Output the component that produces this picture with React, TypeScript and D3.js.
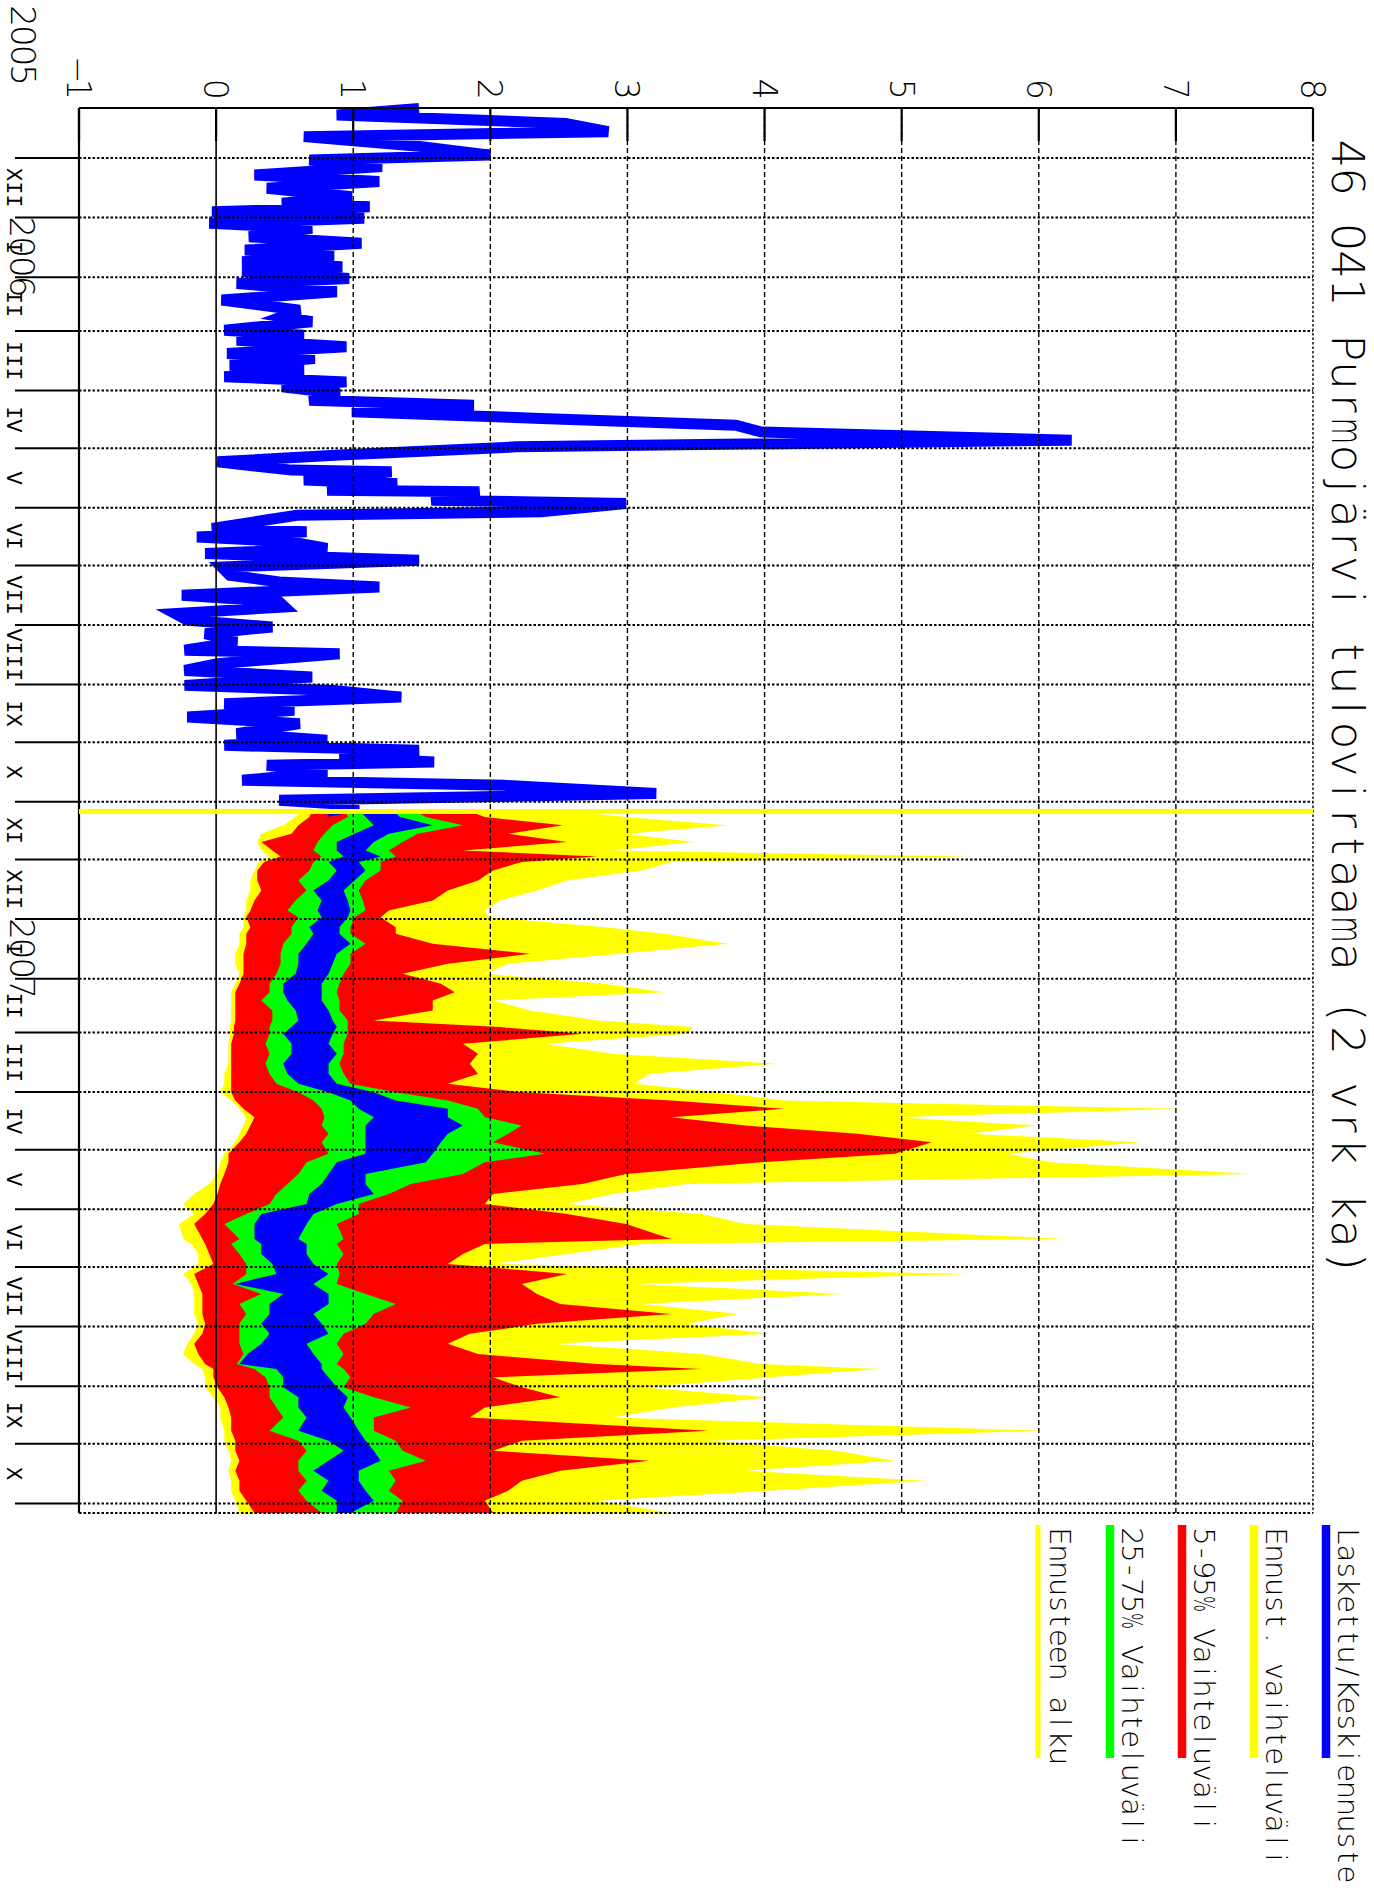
import React from 'react';
import * as d3 from 'd3';

// time axis: days counted from 2005-11-05 (top edge of the plot)
const START = Date.UTC(2005, 10, 5);
const END = Date.UTC(2007, 10, 6);
const FORECAST_START = 366;

const title = '46 041 Purmojärvi tulovirtaama (2 vrk ka)';
const valueTicks = [-1, 0, 1, 2, 3, 4, 5, 6, 7, 8];
const monthNames = ['I', 'II', 'III', 'IV', 'V', 'VI', 'VII', 'VIII', 'IX', 'X', 'XI', 'XII'];

const pastDays = [
  0.2, 3.6, 8.0, 12.3, 14.9, 20.1, 24.5, 27.1, 30.5, 34.9, 38.3, 41.8, 46.2, 49.6, 51.4, 54.0,
  57.4, 60.0, 62.6, 67.0, 70.4, 73.9, 76.5, 80.0, 82.6, 85.2, 88.7, 91.3, 95.6, 99.9, 105.2,
  108.6, 111.2, 115.6, 118.2, 120.8, 124.2, 127.7, 130.3, 133.8, 136.4, 139.8, 142.5, 145.1,
  148.5, 152.0, 154.6, 158.1, 161.5, 165.0, 168.5, 172.8, 176.3, 180.6, 184.1, 188.4, 189.3,
  193.6, 195.4, 198.9, 199.7, 204.1, 205.8, 210.1, 211.9, 215.3, 218.8, 220.5, 223.2, 225.8,
  229.2, 231.8, 235.3, 238.8, 243.1, 246.6, 249.2, 253.5, 257.0, 259.6, 263.0, 266.5, 270.0,
  273.5, 277.8, 282.1, 283.9, 289.1, 292.6, 296.0, 300.4, 303.0, 306.5, 309.9, 313.4, 316.9,
  320.3, 325.5, 329.0, 331.6, 334.2, 337.7, 340.3, 342.0, 345.5, 349.8, 352.4, 356.7, 360.2,
  362.8, 366.0,
];
const pastFlow = [
  1.48, 0.88, 2.55, 2.86, 0.64, 1.5, 2.0, 0.68, 1.21, 0.28, 1.19, 0.37, 0.99, 0.48, 1.12, -0.03,
  1.08, -0.05, 0.7, 0.24, 1.06, 0.21, 0.86, 0.19, 0.92, 0.19, 0.97, 0.15, 0.88, 0.04, 0.61,
  0.48, 0.7, 0.06, 0.64, 0.15, 0.95, 0.08, 0.72, 0.1, 0.64, 0.06, 0.95, 0.48,
  0.9, 0.68, 1.88, 0.99, 2.37, 3.79, 3.97, 6.24, 2.19, 0.9, 0.01, 0.55, 1.28,
  0.64, 1.32, 0.81, 1.92, 1.57, 2.99, 2.37, 0.59, 0.28, -0.03, 0.66, -0.14, 0.55,
  0.81, -0.08, 1.48, 0.04, 0.1, 0.46, 1.19, -0.25, 0.46, 0.5, -0.3, -0.21, 0.41,
  -0.08, 0.15, -0.23, 0.9, 0.01, -0.23, 0.7, -0.23, 0.86, 1.35, 0.06, 0.57, -0.21,
  0.61, 0.15, 0.81, 0.06, 1.48, 0.9, 1.59, 0.37, 0.81, 0.19, 2.1, 3.21, 0.46,
  1.04, 0.81,
];

// forecast distribution
const fcDays = [
  366, 368.9, 373.2, 377.6, 381.9, 386.3, 389.4, 392.3, 396.7, 401.9, 407.1, 412.3, 417.5, 421.0,
  426.2, 429.6, 434.8, 440.0, 445.2, 450.5, 455.7, 460.0, 464.3, 469.5, 474.7, 478.2, 481.7,
  486.9, 492.1, 497.3, 502.5, 507.7, 512.1, 516.4, 520.7, 525.1, 529.4, 533.7, 538.1, 544.1,
  548.5, 554.6, 559.8, 565.0, 570.2, 575.4, 580.6, 588.4, 591.0, 596.2, 601.4, 606.6, 611.8,
  617.0, 622.2, 627.4, 632.6, 637.8, 643.0, 648.3, 653.5, 656.1, 660.4, 665.6, 670.8, 676.1,
  681.3, 688.2, 693.4, 698.6, 703.8, 709.0, 714.2, 719.4, 724.6, 731.0,
];
const fcMin = [
  0.62, 0.58, 0.49, 0.33, 0.3, 0.33, 0.39, 0.31, 0.28, 0.25, 0.25, 0.22, 0.22, 0.2,
  0.2, 0.17, 0.17, 0.14, 0.14, 0.17, 0.14, 0.11, 0.11, 0.11, 0.11, 0.1, 0.1,
  0.09, 0.09, 0.09, 0.06, 0.06, 0.03, 0.11, 0.17, 0.22, 0.2, 0.17, 0.14, 0.06,
  0.03, 0.01, -0.05, -0.16, -0.24, -0.16, -0.27, -0.24, -0.18, -0.13, -0.13, -0.24, -0.18,
  -0.16, -0.16, -0.16, -0.13, -0.16, -0.21, -0.24, -0.16, -0.1, -0.08, -0.08, -0.02, 0.03,
  0.03, 0.06, 0.06, 0.09, 0.11, 0.09, 0.11, 0.11, 0.14, 0.17,
];
const fcP5 = [
  0.7, 0.68, 0.6, 0.55, 0.33, 0.41, 0.47, 0.35, 0.3, 0.3, 0.33, 0.28, 0.25, 0.22,
  0.25, 0.22, 0.22, 0.2, 0.2, 0.2, 0.17, 0.14, 0.14, 0.14, 0.14, 0.13, 0.13,
  0.11, 0.11, 0.11, 0.11, 0.11, 0.11, 0.14, 0.2, 0.28, 0.25, 0.22, 0.17, 0.09,
  0.09, 0.06, 0.03, 0.01, -0.02, -0.08, -0.16, -0.1, -0.08, -0.05, -0.02, -0.16, -0.13,
  -0.1, -0.1, -0.1, -0.08, -0.1, -0.16, -0.13, -0.08, -0.02, -0.02, 0.01, 0.06, 0.09,
  0.11, 0.11, 0.14, 0.14, 0.17, 0.14, 0.17, 0.17, 0.22, 0.28,
];
const fcP25 = [
  0.95, 0.96, 0.85, 0.79, 0.74, 0.71, 0.77, 0.71, 0.68, 0.6, 0.66, 0.58, 0.52, 0.6,
  0.55, 0.55, 0.49, 0.47, 0.47, 0.44, 0.39, 0.39, 0.33, 0.41, 0.41, 0.39, 0.39,
  0.36, 0.39, 0.36, 0.39, 0.44, 0.6, 0.71, 0.77, 0.79, 0.77, 0.82, 0.77, 0.82,
  0.66, 0.6, 0.52, 0.44, 0.39, 0.22, 0.06, 0.17, 0.11, 0.17, 0.22, 0.22, 0.12,
  0.33, 0.17, 0.22, 0.17, 0.17, 0.17, 0.2, 0.15, 0.28, 0.36, 0.39, 0.39, 0.44,
  0.49, 0.39, 0.6, 0.66, 0.6, 0.6, 0.66, 0.6, 0.66, 0.77,
];
const fcMidLo = [
  1.05, 1.09, 1.15, 1.01, 0.88, 0.88, 0.93, 0.82, 0.88, 0.82, 0.71, 0.77, 0.74, 0.77,
  0.68, 0.71, 0.66, 0.6, 0.6, 0.58, 0.49, 0.49, 0.52, 0.58, 0.6, 0.55, 0.49,
  0.55, 0.55, 0.49, 0.52, 0.6, 0.82, 0.98, 1.04, 1.15, 1.09, 1.09, 1.09, 1.09,
  0.88, 0.82, 0.77, 0.68, 0.66, 0.33, 0.28, 0.28, 0.33, 0.33, 0.41, 0.44, 0.14,
  0.49, 0.39, 0.39, 0.33, 0.39, 0.33, 0.23, 0.17, 0.44, 0.49, 0.49, 0.6, 0.6,
  0.66, 0.6, 0.82, 0.93, 0.82, 0.71, 0.82, 0.77, 0.88, 0.88,
];
const fcMidHi = [
  1.3, 1.34, 1.58, 1.26, 1.15, 1.09, 1.2, 1.04, 1.09, 1.01, 0.93, 0.96, 0.98, 0.96,
  0.9, 0.9, 0.98, 0.88, 0.85, 0.82, 0.77, 0.77, 0.77, 0.82, 0.85, 0.88, 0.85,
  0.82, 0.88, 0.82, 0.82, 0.88, 1.15, 1.31, 1.69, 1.69, 1.8, 1.69, 1.64, 1.58,
  1.53, 1.09, 1.09, 1.15, 0.88, 0.71, 0.66, 0.6, 0.66, 0.66, 0.71, 0.82, 0.71,
  0.82, 0.82, 0.71, 0.77, 0.82, 0.66, 0.71, 0.77, 0.77, 0.82, 0.88, 0.96, 0.93,
  0.98, 1.04, 1.09, 1.15, 1.2, 1.04, 1.04, 1.09, 1.15, 0.98,
];
const fcP75 = [
  1.45, 1.53, 1.8, 1.47, 1.36, 1.26, 1.31, 1.2, 1.2, 1.09, 1.04, 1.07, 1.09, 1.01,
  0.98, 0.98, 1.09, 0.98, 0.98, 0.93, 0.9, 0.88, 0.9, 0.9, 0.96, 0.96, 0.96,
  0.93, 0.93, 0.9, 0.93, 0.98, 1.31, 1.69, 1.91, 1.96, 2.23, 2.13, 2.02, 2.4,
  1.96, 1.8, 1.42, 1.26, 1.04, 1.04, 0.88, 0.93, 0.88, 0.93, 0.88, 0.9, 0.88,
  1.09, 1.31, 1.15, 1.09, 0.93, 0.88, 0.93, 0.88, 0.93, 0.98, 0.93, 1.15, 1.42,
  1.15, 1.15, 1.31, 1.36, 1.53, 1.26, 1.31, 1.26, 1.36, 1.31,
];
const fcP95 = [
  1.85, 1.96, 2.53, 2.13, 2.56, 1.8, 2.78, 2.23, 2.02, 1.91, 1.69, 1.58, 1.26, 1.2,
  1.31, 1.31, 1.58, 2.29, 1.69, 1.36, 1.64, 1.74, 1.58, 1.58, 1.15, 2.07, 2.67,
  1.8, 1.91, 1.85, 1.91, 1.69, 2.23, 3.32, 4.14, 3.32, 3.86, 4.68, 5.22, 4.95,
  3.97, 2.99, 2.67, 2.02, 1.96, 2.56, 2.99, 3.32, 1.96, 1.8, 1.69, 2.56, 2.23,
  2.34, 2.51, 3.32, 2.34, 1.85, 1.69, 1.91, 2.78, 3.54, 2.02, 2.23, 2.51, 1.96,
  1.85, 3.59, 2.23, 2.02, 3.16, 2.51, 2.23, 2.13, 1.96, 2.02,
];
const fcMax = [
  2.6, 2.99, 3.73, 2.99, 3.48, 2.89, 5.49, 3.32, 3.1, 2.56, 2.34, 2.07, 1.96, 1.99,
  2.83, 3.27, 3.73, 2.94, 2.13, 1.96, 2.83, 3.27, 2.02, 2.29, 2.78, 3.48, 3.43,
  2.4, 2.89, 4.08, 3.16, 3.05, 3.65, 4.14, 7.02, 4.95, 5.98, 5.49, 6.74, 5.77,
  6.09, 7.56, 3.43, 2.89, 2.56, 3.54, 3.86, 6.2, 3.1, 2.56, 2.02, 5.49, 3.05,
  4.57, 3.1, 3.81, 3.43, 4.03, 2.45, 3.54, 3.97, 4.84, 4.03, 3.1, 4.03, 3.32,
  2.89, 6.04, 3.59, 4.52, 4.95, 3.86, 5.17, 4.03, 2.78, 3.32,
];

const legendLabels = [
  'Laskettu/Keskiennuste',
  'Ennust. vaihteluväli',
  '5-95% Vaihteluväli',
  '25-75% Vaihteluväli',
  'Ennusteen alku',
];
const legendColors = ['#0000ff', '#ffff00', '#ff0000', '#00ff00', '#ffff00'];

const THIN = '"DejaVu Sans", "Liberation Sans", sans-serif';
const ROMAN = '"Liberation Mono", "DejaVu Sans Mono", monospace';
const W = 1374;
const H = 1895;

// rough advance widths (em) of the glyphs that would overflow a cell
const wide: Record<string, number> = { m: 0.974, w: 0.818, M: 0.863, W: 0.989, '%': 0.95 };

const dayDate = (d: number) => new Date(START + d * 864e5);

// plotter-style text: every glyph centred in a fixed-width cell, read top to bottom
function Mono({ text, x, y, size, adv, anchor = 'start', font = THIN, weight = 200 }: {
  text: string; x: number; y: number; size: number; adv: number;
  anchor?: 'start' | 'middle' | 'end'; font?: string; weight?: number;
}) {
  const chars = Array.from(text);
  const n = chars.length;
  const off = anchor === 'end' ? -n * adv : anchor === 'middle' ? -n * adv / 2 : 0;
  return (
    <g fontFamily={font} fontSize={size} fontWeight={weight}>
      {chars.map((c, i) => {
        if (c === ' ') return null;
        const w = wide[c];
        const sx = w ? Math.min(1, (adv * 0.95) / (w * size)) : 1;
        return (
          <text key={i} transform={`translate(${x},${y + off + (i + 0.5) * adv}) rotate(90) scale(${sx},1)`}
            textAnchor="middle">
            {c}
          </text>
        );
      })}
    </g>
  );
}

export default function App() {
  const top = 108;
  const bottom = 1513;

  const t = d3.scaleUtc().domain([new Date(START), new Date(END)]).range([top, bottom]);
  const v = d3.scaleLinear().domain([-1, 8]).range([79, 1313]);
  const left = v(-1);
  const right = v(8);

  const past = pastDays.map((d, i) => ({ d, q: pastFlow[i] }));
  const fc = fcDays.map((d, i) => ({
    d,
    min: fcMin[i], p5: fcP5[i], p25: fcP25[i], lo: fcMidLo[i],
    hi: fcMidHi[i], p75: fcP75[i], p95: fcP95[i], max: fcMax[i],
  }));
  type F = typeof fc[number];

  const band = (a: keyof F, b: keyof F) =>
    d3.area<F>()
      .y(p => t(dayDate(p.d)))
      .x0(p => v(p[a] as number))
      .x1(p => v(p[b] as number))(fc) || '';

  const pastPath = d3.line<{ d: number; q: number }>()
    .x(p => v(p.q))
    .y(p => t(dayDate(p.d)))(past) || '';

  const months = d3.utcMonth.range(new Date(START), new Date(END));
  const years = d3.utcYear.range(new Date(START), new Date(END));
  const fcY = t(dayDate(FORECAST_START));

  const tickSize = 33;
  const tickCap = 0.73 * tickSize;

  return (
    <div style={{ position: 'absolute', left: 0, top: 0 }}>
      <svg width={W} height={H} style={{ display: 'block', background: '#fff' }}>
        {/* forecast bands */}
        <path d={band('min', 'max')} fill="#ffff00" />
        <path d={band('p5', 'p95')} fill="#ff0000" />
        <path d={band('p25', 'p75')} fill="#00ff00" />
        <path d={band('lo', 'hi')} fill="#0000ff" />

        {/* observed flow */}
        <path d={pastPath} fill="none" stroke="#0000ff" strokeWidth={11} />

        {/* month grid */}
        {months.map((m, i) => (
          <g key={'m' + i}>
            <line x1={left} x2={right} y1={t(m)} y2={t(m)} stroke="#000" strokeWidth={2} strokeDasharray="2.5,2" />
            <line x1={15} x2={left} y1={t(m)} y2={t(m)} stroke="#000" strokeWidth={2} />
          </g>
        ))}
        {/* value grid */}
        {valueTicks.map(k => (
          <g key={'v' + k}>
            {k !== 0 && k !== -1 && (
              <line x1={v(k)} x2={v(k)} y1={top} y2={bottom} stroke="#000" strokeWidth={1.4}
                strokeDasharray={k === 8 ? '2.5,2' : '5,3'} />
            )}
            <line x1={v(k)} x2={v(k)} y1={top} y2={top + 33} stroke="#000" strokeWidth={2.2} />
            <Mono text={k < 0 ? '\u2212' + Math.abs(k) : String(k)} x={v(k) - tickCap / 2} y={99}
              size={tickSize} adv={19.5} anchor="end" />
          </g>
        ))}
        <line x1={v(0)} x2={v(0)} y1={top} y2={bottom} stroke="#000" strokeWidth={1.6} />

        {/* frame */}
        <line x1={left} x2={right} y1={top} y2={top} stroke="#000" strokeWidth={2.2} />
        <line x1={left} x2={left} y1={top} y2={bottom} stroke="#000" strokeWidth={2.2} />
        <line x1={left} x2={right} y1={bottom} y2={bottom} stroke="#000" strokeWidth={2} strokeDasharray="2.5,2" />

        {/* forecast start */}
        <line x1={left} x2={right} y1={fcY} y2={fcY} stroke="#ffff00" strokeWidth={5} />

        {/* month labels */}
        {months.slice(0, -1).map((m, i) => (
          <Mono key={'ml' + i} text={monthNames[m.getUTCMonth()]} x={7}
            y={(t(m) + t(months[i + 1])) / 2} size={22} adv={13.2} anchor="middle"
            font={ROMAN} weight={400} />
        ))}
        {/* year labels */}
        <Mono text={String(new Date(START).getUTCFullYear())} x={11} y={top - 23} size={34} adv={19.7} anchor="end" />
        {years.map((y, i) => (
          <Mono key={'y' + i} text={String(y.getUTCFullYear())} x={10} y={t(y)} size={34} adv={19.7} />
        ))}

        {/* title */}
        <Mono text={title} x={1332} y={140} size={45} adv={27.7} />

        {/* legend */}
        {legendLabels.map((lab, i) => {
          const x = 1326 - 72 * i;
          return (
            <g key={'l' + i}>
              <line x1={x} x2={x} y1={1525} y2={1758} stroke={legendColors[i]}
                strokeWidth={i === 4 ? 5 : 8.5} />
              <Mono text={lab} x={x + 12} y={1528} size={29} adv={16.9} />
            </g>
          );
        })}
      </svg>
    </div>
  );
}
